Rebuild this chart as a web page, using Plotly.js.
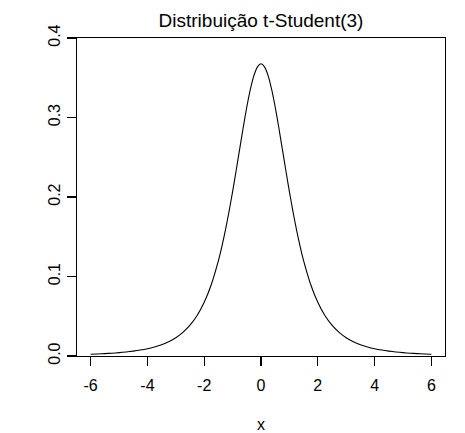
<!DOCTYPE html>
<html>
<head>
<meta charset="utf-8">
<script src="https://cdn.plot.ly/plotly-3.0.1.min.js"></script>
<style>html,body{margin:0;padding:0;background:#fff;}#chart{width:465px;height:433px;}</style>
</head>
<body>
<div id="chart"></div>
<script>
// Values (density of t-Student with 3 df)
const xValues = [-6,-5.75,-5.5,-5.25,-5,-4.75,-4.5,-4.25,-4,-3.75,-3.5,-3.25,-3,-2.75,-2.5,-2.25,-2,-1.75,-1.5,-1.375,-1.25,-1.125,-1,-0.875,-0.75,-0.625,-0.5,-0.375,-0.25,-0.125,0,
                 0.125,0.25,0.375,0.5,0.625,0.75,0.875,1,1.125,1.25,1.375,1.5,1.75,2,2.25,2.5,2.75,3,3.25,3.5,3.75,4,4.25,4.5,4.75,5,5.25,5.5,5.75,6];
const densityValues = [0.00217,0.00254,0.00299,0.00354,0.00422,0.00506,0.00612,0.00746,0.00916,0.0114,0.0142,0.0180,0.0230,0.0297,0.0387,0.0509,0.0675,0.0900,0.1200,0.1383,0.1589,0.1818,0.2067,0.2333,0.2606,0.2877,0.3132,0.3354,0.3527,0.3637,0.3676,
                       0.3637,0.3527,0.3354,0.3132,0.2877,0.2606,0.2333,0.2067,0.1818,0.1589,0.1383,0.1200,0.0900,0.0675,0.0509,0.0387,0.0297,0.0230,0.0180,0.0142,0.0114,0.00916,0.00746,0.00612,0.00506,0.00422,0.00354,0.00299,0.00254,0.00217];
const xTicks = [-6,-4,-2,0,2,4,6];
const xTickLabels = ['-6','-4','-2','0','2','4','6'];
const yTicks = [0,0.1,0.2,0.3,0.4];
const yTickLabels = ['0.0','0.1','0.2','0.3','0.4'];
const chartTitle = 'Distribuição t-Student(3)';
const xLabel = 'x';

const font = 'Arial, "Liberation Sans", sans-serif';
const trace = {
  x: xValues, y: densityValues, type: 'scatter', mode: 'lines',
  line: {color: '#000', width: 1.1, shape: 'spline', smoothing: 0.6}, hoverinfo: 'none'
};
const layout = {
  width: 465, height: 433,
  margin: {l: 77, r: 20, t: 38, b: 77},
  paper_bgcolor: '#fff', plot_bgcolor: '#fff',
  showlegend: false,
  font: {family: font, color: '#000', size: 16},
  title: {text: chartTitle, font: {family: font, size: 19, color: '#000'},
          x: 0.5, xanchor: 'center', y: 1 - 20/433, yanchor: 'middle', yref: 'container', xref: 'paper'},
  xaxis: {
    range: [-6.48, 6.48], showgrid: false, zeroline: false,
    showline: true, mirror: true, linecolor: '#000', linewidth: 1.2,
    tickmode: 'array', tickvals: xTicks, ticktext: xTickLabels,
    ticks: 'outside', ticklen: 9, tickwidth: 1.2, tickcolor: '#000',
    ticklabelstandoff: 6,
    tickfont: {family: font, size: 16, color: '#000'},
    title: {text: xLabel, font: {family: font, size: 16, color: '#000'}, standoff: 27}
  },
  yaxis: {
    range: [0, 0.4], showgrid: false, zeroline: false,
    showline: true, mirror: true, linecolor: '#000', linewidth: 1.2,
    tickmode: 'array', tickvals: yTicks, ticktext: yTickLabels,
    ticks: 'outside', ticklen: 9, tickwidth: 1.2, tickcolor: '#000',
    tickangle: -90,
    tickfont: {family: font, size: 16, color: '#000'}
  }
};
Plotly.newPlot('chart', [trace], layout, {displayModeBar: false, staticPlot: true});
</script>
</body>
</html>
